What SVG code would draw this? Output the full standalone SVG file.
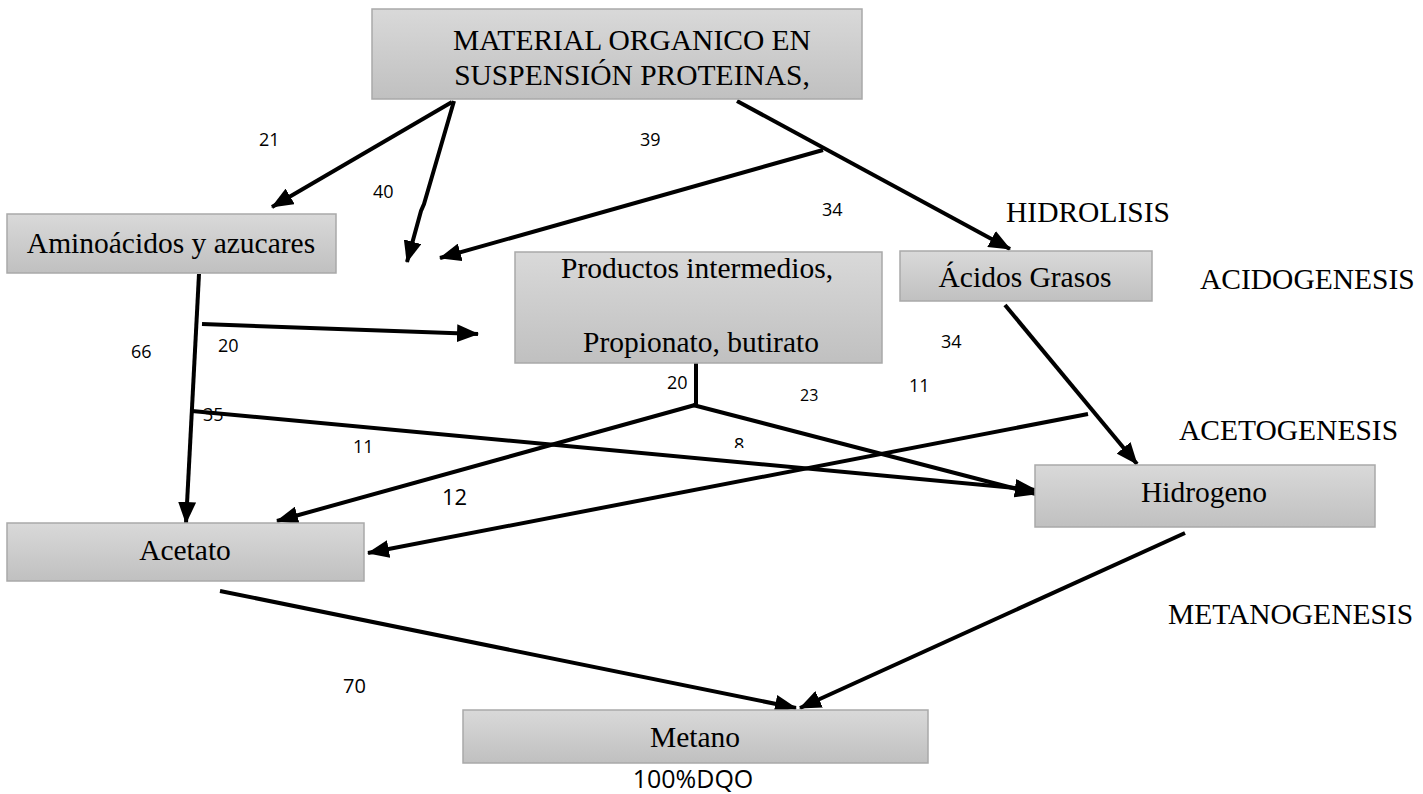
<svg xmlns="http://www.w3.org/2000/svg" width="1423" height="794" viewBox="0 0 1423 794">
  <defs>
    <linearGradient id="boxFill" x1="0" y1="0" x2="0" y2="1">
      <stop offset="0" stop-color="#d9d9d9"/>
      <stop offset="1" stop-color="#c0c0c0"/>
    </linearGradient>
    <marker id="arrow" markerUnits="userSpaceOnUse" markerWidth="22" markerHeight="18" refX="21" refY="9" orient="auto">
      <path d="M0,0 L22,9 L0,18 Z" fill="#000"/>
    </marker>
    <clipPath id="cut8">
      <rect x="720" y="420" width="40" height="28"/>
    </clipPath>
  </defs>
  <style>
    .box { fill: url(#boxFill); stroke: #a9a9a9; stroke-width: 1.5; }
    .lbl { font-family: "Liberation Serif", "Times New Roman", serif; font-size: 29.5px; fill: #000; }
    .mid { text-anchor: middle; }
    .num { font-family: "Open Sans", "Liberation Sans", sans-serif; font-size: 18px; fill: #000; }
    .edge { fill: none; stroke: #000; stroke-width: 4; }
    .arr { marker-end: url(#arrow); }
  </style>

  <rect width="1423" height="794" fill="#fff"/>

  <!-- connectors -->
  <g id="connectors">
    <line class="edge arr" x1="452" y1="102" x2="272" y2="207"/>
    <polyline class="edge arr" points="454,101 424,204 421,211 407,262"/>
    <line class="edge arr" x1="823" y1="150" x2="440" y2="258"/>
    <line class="edge arr" x1="737" y1="101" x2="1010" y2="249"/>
    <line class="edge arr" x1="199" y1="274" x2="186" y2="523"/>
    <line class="edge arr" x1="202" y1="324" x2="478" y2="334"/>
    <line class="edge" x1="696" y1="363" x2="696" y2="406"/>
    <line class="edge arr" x1="695" y1="405" x2="277" y2="521"/>
    <line class="edge arr" x1="693" y1="405" x2="1036" y2="494"/>
    <line class="edge arr" x1="192" y1="411" x2="1036" y2="490"/>
    <line class="edge arr" x1="1088" y1="414" x2="368" y2="553"/>
    <line class="edge arr" x1="1005" y1="305" x2="1137" y2="464"/>
    <line class="edge arr" x1="220" y1="591" x2="796" y2="708"/>
    <line class="edge arr" x1="1185" y1="533" x2="800" y2="708"/>
  </g>

  <!-- nodes -->
  <g id="material">
    <rect class="box" x="372" y="9" width="490" height="90"/>
    <text class="lbl mid" x="632" y="50">MATERIAL ORGANICO EN</text>
    <text class="lbl mid" x="632" y="85">SUSPENSIÓN PROTEINAS,</text>
  </g>
  <g id="aminoacidos">
    <rect class="box" x="7" y="214" width="329" height="59"/>
    <text class="lbl mid" x="171" y="253">Aminoácidos y azucares</text>
  </g>
  <g id="productos">
    <rect class="box" x="515" y="252" width="367" height="111"/>
    <text class="lbl mid" x="697" y="278">Productos intermedios,</text>
    <text class="lbl mid" x="701" y="352">Propionato, butirato</text>
  </g>
  <g id="acidos">
    <rect class="box" x="900" y="251" width="252" height="50"/>
    <text class="lbl mid" x="1025" y="287">Ácidos Grasos</text>
  </g>
  <g id="hidrogeno">
    <rect class="box" x="1035" y="465" width="340" height="62"/>
    <text class="lbl mid" x="1204" y="502">Hidrogeno</text>
  </g>
  <g id="acetato">
    <rect class="box" x="7" y="523" width="357" height="58"/>
    <text class="lbl mid" x="185" y="560">Acetato</text>
  </g>
  <g id="metano">
    <rect class="box" x="463" y="710" width="465" height="53"/>
    <text class="lbl mid" x="695" y="747">Metano</text>
    <text class="num mid" x="693" y="788" style="font-size:25px">100%DQO</text>
  </g>

  <!-- stage labels -->
  <g id="stages">
    <text class="lbl" x="1006" y="222">HIDROLISIS</text>
    <text class="lbl" x="1200" y="289">ACIDOGENESIS</text>
    <text class="lbl" x="1179" y="440">ACETOGENESIS</text>
    <text class="lbl" x="1168" y="624">METANOGENESIS</text>
  </g>

  <!-- flow values -->
  <g id="values">
    <text class="num" x="259" y="146">21</text>
    <text class="num" x="640" y="146">39</text>
    <text class="num" x="373" y="198">40</text>
    <text class="num" x="822" y="216">34</text>
    <text class="num" x="131" y="358">66</text>
    <text class="num" x="218" y="352">20</text>
    <text class="num" x="941" y="348">34</text>
    <text class="num" x="667" y="389">20</text>
    <text class="num" x="800" y="401" style="font-size:16px">23</text>
    <text class="num" x="909" y="392">11</text>
    <text class="num" x="203" y="421">35</text>
    <text class="num" x="353" y="453">11</text>
    <text class="num" x="734" y="451" clip-path="url(#cut8)">8</text>
    <text class="num" x="442" y="505" style="font-size:22px">12</text>
    <text class="num" x="343" y="693" style="font-size:20px">70</text>
  </g>
</svg>
